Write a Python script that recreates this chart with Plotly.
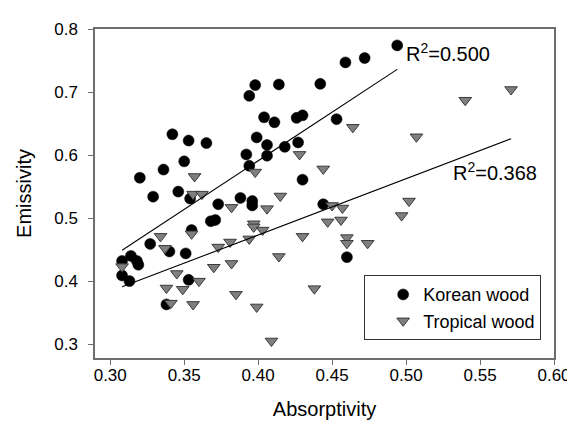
import plotly.graph_objects as go

# ---- data ----
korean_x = [0.494, 0.472, 0.459, 0.398, 0.414, 0.442, 0.394, 0.404, 0.411, 0.426,
            0.430, 0.453, 0.342, 0.353, 0.365, 0.399, 0.406, 0.418, 0.427, 0.392,
            0.406, 0.350, 0.394, 0.336, 0.320, 0.430, 0.329, 0.346, 0.354, 0.373,
            0.388, 0.396, 0.396, 0.444, 0.368, 0.371, 0.355, 0.327, 0.340, 0.351,
            0.308, 0.314, 0.318, 0.319, 0.308, 0.313, 0.353, 0.338, 0.460]
korean_y = [0.774, 0.754, 0.747, 0.711, 0.712, 0.713, 0.694, 0.660, 0.652, 0.659,
            0.663, 0.657, 0.633, 0.623, 0.619, 0.628, 0.616, 0.613, 0.620, 0.601,
            0.599, 0.590, 0.583, 0.577, 0.564, 0.561, 0.534, 0.542, 0.531, 0.522,
            0.532, 0.527, 0.520, 0.522, 0.495, 0.497, 0.481, 0.459, 0.447, 0.444,
            0.432, 0.440, 0.432, 0.426, 0.409, 0.400, 0.402, 0.363, 0.438]

tropical_x = [0.571, 0.540, 0.464, 0.507, 0.357, 0.398, 0.428, 0.444, 0.356, 0.362,
              0.415, 0.382, 0.406, 0.450, 0.457, 0.397, 0.397, 0.403, 0.334, 0.355,
              0.337, 0.430, 0.447, 0.456, 0.373, 0.381, 0.394, 0.414, 0.308, 0.345,
              0.370, 0.382, 0.360, 0.338, 0.349, 0.341, 0.356, 0.385, 0.399, 0.438,
              0.409, 0.460, 0.460, 0.474, 0.502, 0.497]
tropical_y = [0.704, 0.687, 0.644, 0.629, 0.566, 0.573, 0.601, 0.578, 0.538, 0.538,
              0.535, 0.517, 0.515, 0.520, 0.516, 0.491, 0.486, 0.481, 0.471, 0.475,
              0.452, 0.471, 0.494, 0.497, 0.454, 0.462, 0.467, 0.439, 0.423, 0.412,
              0.422, 0.428, 0.400, 0.389, 0.387, 0.365, 0.363, 0.379, 0.359, 0.388,
              0.305, 0.469, 0.460, 0.460, 0.527, 0.504]

# regression lines (endpoints)
fit_korean_x = [0.308, 0.494]
fit_korean_y = [0.449, 0.736]
fit_tropical_x = [0.308, 0.571]
fit_tropical_y = [0.391, 0.626]

r2_labels = ["R<sup>2</sup>=0.500", "R<sup>2</sup>=0.368"]

x_ticks = [0.30, 0.35, 0.40, 0.45, 0.50, 0.55, 0.60]
x_ticklabels = ["0.30", "0.35", "0.40", "0.45", "0.50", "0.55", "0.60"]
y_ticks = [0.3, 0.4, 0.5, 0.6, 0.7, 0.8]
y_ticklabels = ["0.3", "0.4", "0.5", "0.6", "0.7", "0.8"]

FONT = "Arial, Liberation Sans, sans-serif"

fig = go.Figure()
fig.add_trace(go.Scatter(
    x=korean_x, y=korean_y, mode="markers", name="Korean wood",
    marker=dict(symbol="circle", size=11, color="#000000",
                line=dict(color="#000000", width=0.5))))
fig.add_trace(go.Scatter(
    x=tropical_x, y=tropical_y, mode="markers", name="Tropical wood",
    marker=dict(symbol="triangle-down", size=11, color="#7f7f7f",
                line=dict(color="#3a3a3a", width=1))))
fig.add_trace(go.Scatter(
    x=fit_korean_x, y=fit_korean_y, mode="lines", showlegend=False,
    line=dict(color="#000000", width=1.1), hoverinfo="skip"))
fig.add_trace(go.Scatter(
    x=fit_tropical_x, y=fit_tropical_y, mode="lines", showlegend=False,
    line=dict(color="#000000", width=1.1), hoverinfo="skip"))

fig.add_annotation(x=0.4986, y=0.762, xref="x", yref="y", text=r2_labels[0],
                   showarrow=False, xanchor="left", yanchor="middle",
                   font=dict(family=FONT, size=20, color="#000000"))
fig.add_annotation(x=0.5306, y=0.574, xref="x", yref="y", text=r2_labels[1],
                   showarrow=False, xanchor="left", yanchor="middle",
                   font=dict(family=FONT, size=20, color="#000000"))

axis_common = dict(showline=True, linecolor="#6e6e6e", linewidth=1.5, mirror=True,
                   ticks="outside", ticklen=5, tickwidth=1.2, tickcolor="#6e6e6e",
                   showgrid=False, zeroline=False,
                   tickfont=dict(family=FONT, size=17, color="#000000"))

fig.update_xaxes(range=[0.2897, 0.60], tickvals=x_ticks, ticktext=x_ticklabels,
                 ticklabelstandoff=-4,
                 title=dict(text="Absorptivity", standoff=18,
                            font=dict(family=FONT, size=20, color="#000000")),
                 **axis_common)
fig.update_yaxes(range=[0.278, 0.80], tickvals=y_ticks, ticktext=y_ticklabels,
                 ticklabelstandoff=7,
                 title=dict(text="Emissivity", standoff=17,
                            font=dict(family=FONT, size=20, color="#000000")),
                 **axis_common)

fig.update_layout(
    width=575, height=421,
    margin=dict(l=87, r=25, t=19, b=69),
    plot_bgcolor="#ffffff", paper_bgcolor="#ffffff",
    font=dict(family=FONT, size=18, color="#000000"),
    legend=dict(x=0.972, y=0.054, xanchor="right", yanchor="bottom",
                bgcolor="#ffffff", bordercolor="#333333", borderwidth=1,
                indentation=18, font=dict(family=FONT, size=18, color="#000000"),
                tracegroupgap=0),
)

fig.write_html("out.html")
